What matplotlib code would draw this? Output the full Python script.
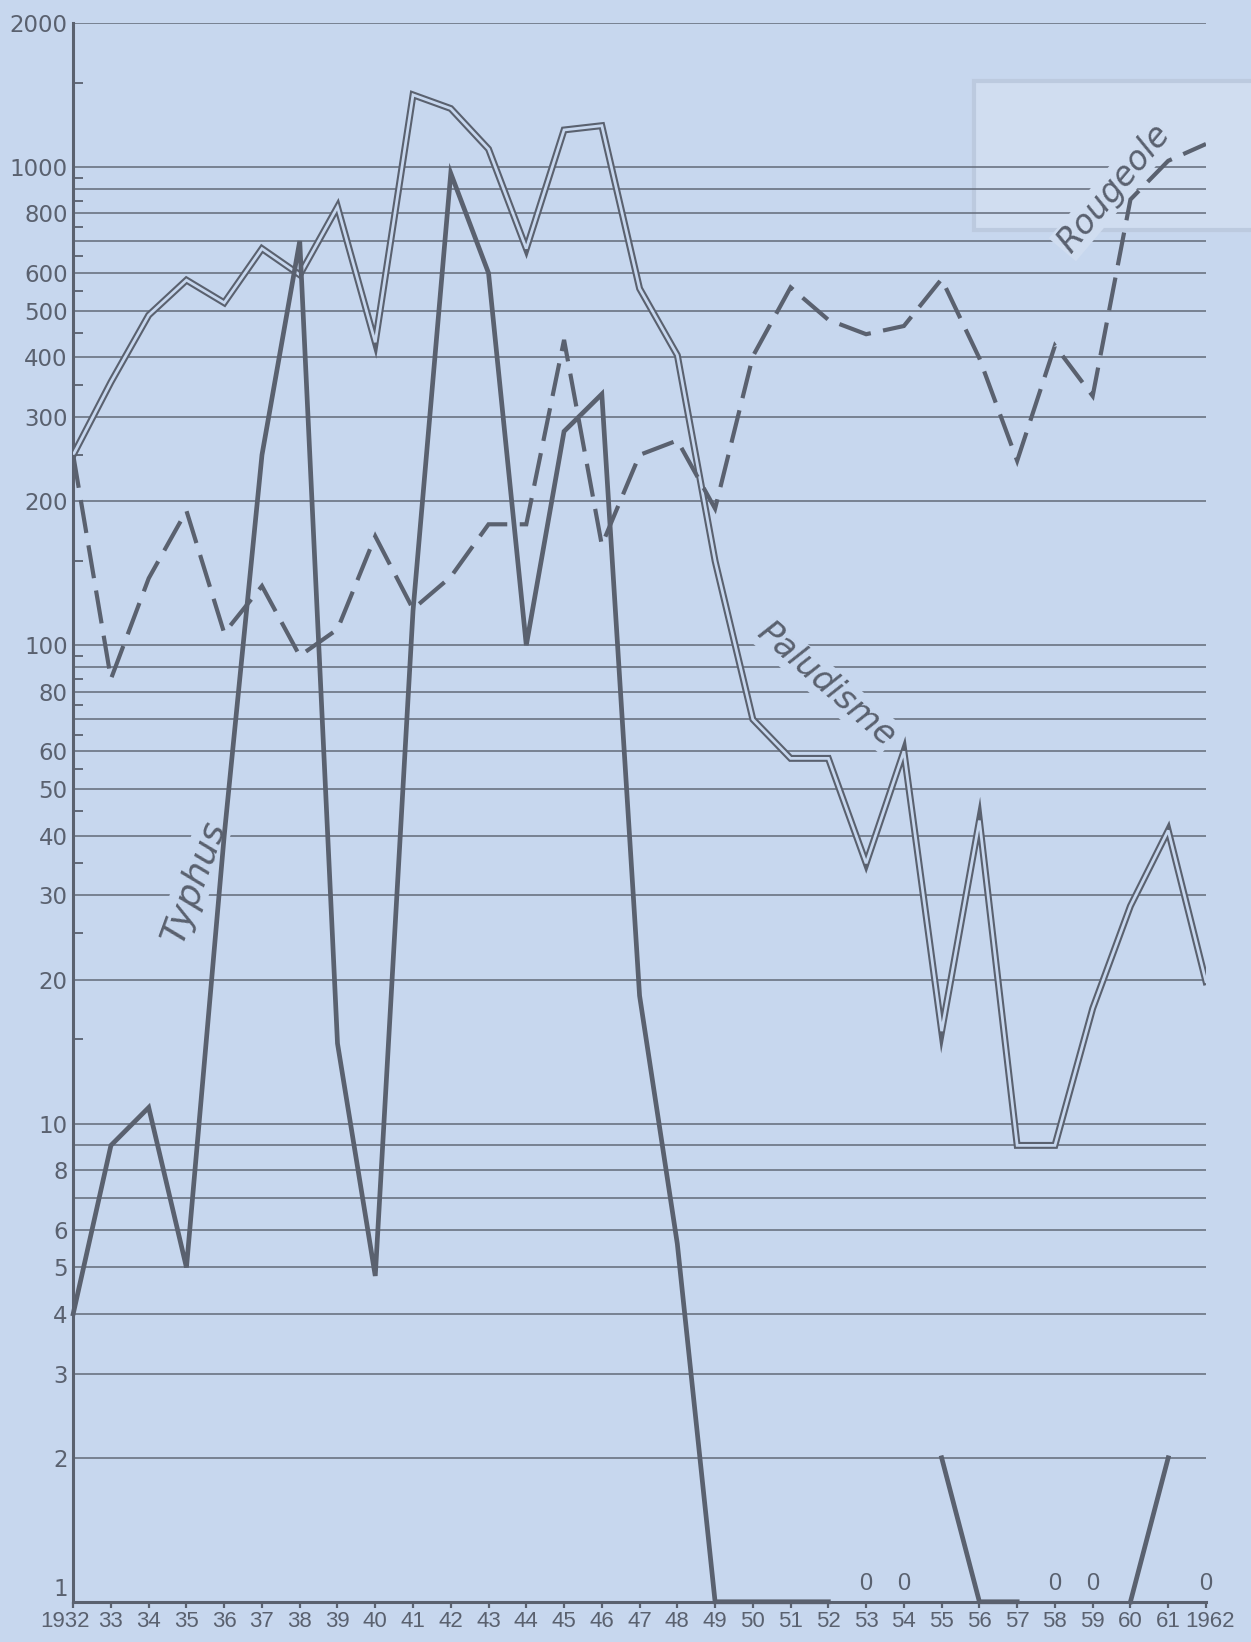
import matplotlib
matplotlib.use("Agg")
import matplotlib.pyplot as plt
import matplotlib.transforms as mtrans
from matplotlib.patches import Rectangle

# ---- data ----
years = list(range(1932, 1963))
typhus = [4, 9, 10.8, 5, 40, 250, 700, 14.7, 4.8, 118, 970, 600, 100, 280, 335,
          18.5, 5.6, 1, 1, 1, 1, 0, 0, 2, 1, 1, 0, 0, 1, 2, 0]
paludisme = [250, 355, 490, 580, 520, 675, 595, 825, 430, 1415, 1325, 1090, 675,
             1195, 1220, 557, 404, 150, 70, 58, 58, 35, 60, 15.6, 43, 9, 9, 17.4,
             28.5, 41, 19.8]
rougeole = [250, 85, 138, 191, 106, 133, 95, 108, 169, 119, 139, 179, 179, 435,
            162, 250, 268, 193, 402, 560, 479, 447, 465, 583, 398, 243, 423, 332,
            855, 1030, 1117]
ytick_labels = [1, 2, 3, 4, 5, 6, 8, 10, 20, 30, 40, 50, 60, 80, 100, 200, 300,
                400, 500, 600, 800, 1000, 2000]
grid_values = [1, 2, 3, 4, 5, 6, 7, 8, 9, 10, 20, 30, 40, 50, 60, 70, 80, 90, 100,
               200, 300, 400, 500, 600, 700, 800, 900, 1000, 2000]
minor_ticks = [15, 25, 35, 45, 55, 65, 75, 85, 95, 150, 250, 350, 450, 550, 650,
               750, 850, 950, 1500]
xtick_labels = ["1932"] + [str(y % 100) for y in years[1:-1]] + ["1962"]

BG = "#c7d7ee"
INK = "#5a616f"
GRID = "#626a78"

fig = plt.figure(figsize=(12.51, 16.42), dpi=100, facecolor=BG)
ax = fig.add_axes([0.0585, 0.0245, 0.9055, 0.9615])
ax.set_facecolor(BG)
ax.set_yscale("log")
ax.set_xlim(1932, 1962)
ax.set_ylim(1, 2000)

for v in grid_values:
    ax.axhline(v, color=GRID, lw=1.1, zorder=1)

# faint see-through stamp (behind everything in the axes)
ax.add_patch(Rectangle((0.795, 0.869), 0.25, 0.094, transform=ax.transAxes,
                       facecolor="#d0ddf0", edgecolor="#bccadf", lw=3,
                       zorder=0.5, clip_on=False))

# Paludisme: double line
ax.plot(years, paludisme, color=INK, lw=5.0, zorder=4, solid_joinstyle="miter")
ax.plot(years, paludisme, color=BG, lw=2.0, zorder=5, solid_joinstyle="miter")

# Rougeole: dashed
ax.plot(years, rougeole, color=INK, lw=3.0, dashes=(8, 3), zorder=6,
        solid_joinstyle="miter", dash_joinstyle="miter")

# Typhus: solid, broken where value is zero
seg_x, seg_y = [], []
for yr, v in zip(years, typhus):
    if v > 0:
        seg_x.append(yr)
        seg_y.append(v)
    else:
        if seg_x:
            ax.plot(seg_x, seg_y, color=INK, lw=3.4, zorder=7, clip_on=False,
                    solid_joinstyle="miter")
        seg_x, seg_y = [], []
        ax.text(yr, 1.09, "0", ha="center", va="center", fontsize=17,
                color=INK, zorder=8, family=["Liberation Sans", "DejaVu Sans"])
if seg_x:
    ax.plot(seg_x, seg_y, color=INK, lw=3.4, zorder=7, clip_on=False,
            solid_joinstyle="miter")

# labels on curves
tb = dict(facecolor=BG, edgecolor="none", pad=1)
ax.text(1935.2, 32, "Typhus", rotation=70, fontsize=26, color=INK, style="italic",
        ha="center", va="center", zorder=3, bbox=tb, rotation_mode="anchor")
ax.text(1951.95, 83, "Paludisme", rotation=-41, fontsize=24, color=INK,
        style="italic", ha="center", va="center", zorder=3, bbox=tb,
        rotation_mode="anchor")
ax.text(1959.55, 900, "Rougeole", rotation=50, fontsize=24, color=INK,
        style="italic", ha="center", va="center", zorder=3,
        bbox=dict(facecolor="#d0ddf0", edgecolor="none", pad=1),
        rotation_mode="anchor")

# axes styling
for s in ["top", "right"]:
    ax.spines[s].set_visible(False)
for s in ["left", "bottom"]:
    ax.spines[s].set_color(INK)
    ax.spines[s].set_linewidth(2.2)

ax.set_yticks(ytick_labels)
ax.set_yticklabels([str(v) for v in ytick_labels])
ax.set_yticks(minor_ticks, minor=True)
ax.yaxis.set_minor_formatter(matplotlib.ticker.NullFormatter())
ax.tick_params(axis="y", which="major", length=0, pad=4, labelsize=16.5,
               labelcolor=INK)
ax.tick_params(axis="y", which="minor", direction="in", length=7, width=1.3,
               color=INK)
ax.set_xticks(years)
ax.set_xticklabels(xtick_labels, family=["Liberation Sans", "DejaVu Sans"])
ax.tick_params(axis="x", which="major", direction="out", length=4, width=1.6,
               color=INK, labelsize=16, labelcolor=INK, pad=3)
ax.xaxis.set_minor_locator(matplotlib.ticker.NullLocator())

# the "1" label sits just above the baseline, as in the original
yl = ax.get_yticklabels()
yl[0].set_verticalalignment("bottom")
yl[0].set_transform(yl[0].get_transform() +
                    mtrans.ScaledTranslation(0, 1 / 100, fig.dpi_scale_trans))

# small offsets for end labels
xl = ax.get_xticklabels()
xl[0].set_transform(xl[0].get_transform() +
                    mtrans.ScaledTranslation(-8 / 100, 0, fig.dpi_scale_trans))
xl[-1].set_transform(xl[-1].get_transform() +
                     mtrans.ScaledTranslation(4 / 100, 0, fig.dpi_scale_trans))

fig.savefig("out.png", dpi=100, facecolor=BG)
